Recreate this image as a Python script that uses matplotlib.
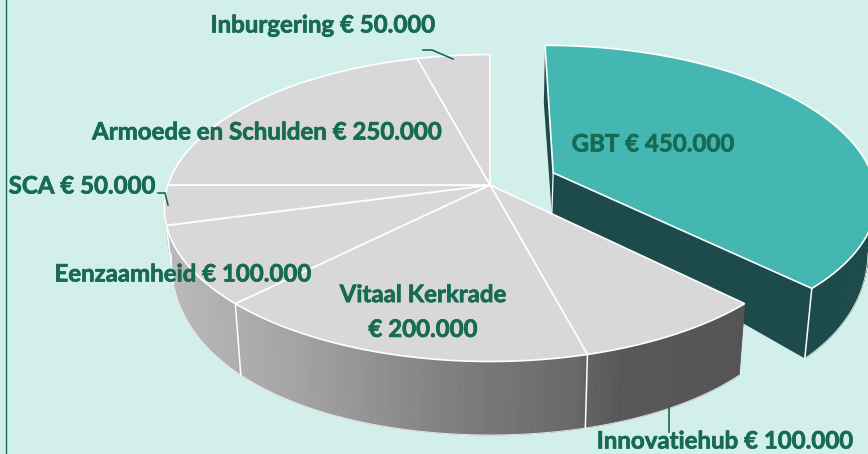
import numpy as np
import matplotlib
matplotlib.use("Agg")
import matplotlib.pyplot as plt
import matplotlib.patheffects as pe
from matplotlib.patches import Polygon
from matplotlib.collections import PolyCollection

categories = ["GBT", "Innovatiehub", "Vitaal Kerkrade", "Eenzaamheid", "SCA",
              "Armoede en Schulden", "Inburgering"]
values = [450000, 100000, 200000, 100000, 50000, 250000, 50000]
label_text = ["GBT € 450.000", "Innovatiehub € 100.000", "Vitaal Kerkrade\n€ 200.000",
              "Eenzaamheid € 100.000", "SCA € 50.000", "Armoede en Schulden € 250.000",
              "Inburgering € 50.000"]
label_pos = [(653, 144), (725, 441), (423, 312), (183, 274), (82, 186), (267, 132), (323, 25)]
explode = [0.215, 0, 0, 0, 0, 0, 0]

BG = "#d3efec"; TEXT = "#176b53"; TEAL = "#45b7b3"; DARK = "#1d4a4a"; GREY = "#d8d8d8"
CX, CY = 490, 185
A, B, K = 322, 150, 0.15
A2, K2 = 315, 0.15

def top(u, v):
    w = 1 + K * v
    return CX + A * u / w, CY - B * v / w

def bottom(u, v):
    w = 1 + K2 * v
    y = np.where(v <= 0.08, 231 - 204 * v, 214.7 - 111.7 * (v - 0.08))
    return CX + A2 * u / w, y

def ring(t, e, bis):
    return np.sin(t) + e * np.sin(bis), np.cos(t) + e * np.cos(bis)

fig = plt.figure(figsize=(8.68, 4.54), dpi=100, facecolor=BG)
ax = fig.add_axes([0, 0, 1, 1])
ax.set_xlim(0, 868); ax.set_ylim(454, 0); ax.axis("off")

ax.plot([5.5, 5.5], [0, 454], color="#1a6b54", lw=1.0, zorder=1)

fracs = np.array(values, dtype=float) / sum(values)
edges = np.concatenate([[0], np.cumsum(fracs)]) * 2 * np.pi

grey_x = [170, 242, 300, 450, 570, 620, 740]
grey_v = [0.73, 0.68, 0.64, 0.50, 0.41, 0.345, 0.33]

def draw_slices(idx, z):
    t0, t1 = edges[idx], edges[idx + 1]
    e, bis = explode[idx], (t0 + t1) / 2
    ts = np.linspace(t0, t1, max(int(np.degrees(t1 - t0)), 4) + 1)
    apex_u, apex_v = e * np.sin(bis), e * np.cos(bis)
    au, av = np.array([apex_u]), np.array([apex_v])
    u, v = ring(ts, e, bis)
    tx, ty = top(u, v)
    bx, by = bottom(u, v)
    atx, aty = top(au, av)
    abx, aby = bottom(au, av)
    exploded = e > 0
    if exploded:
        ax.add_patch(Polygon([(tx[0], ty[0]), (atx[0], aty[0]), (abx[0], float(aby[0])), (bx[0], float(by[0]))],
                             fc=DARK, ec="none", zorder=z))
        ax.add_patch(Polygon([(atx[0], aty[0]), (tx[-1], ty[-1]), (bx[-1], float(by[-1])), (abx[0], float(aby[0]))],
                             fc=DARK, ec="none", zorder=z))
        ax.plot([abx[0], atx[0]], [float(aby[0]), aty[0]], color="white", lw=0.9, zorder=z + 0.1)
    quads, cols = [], []
    for i in range(len(ts) - 1):
        if np.cos(ts[i]) + e * np.cos(bis) > 0.12:
            continue
        quads.append([(tx[i], ty[i]), (tx[i + 1], ty[i + 1]), (bx[i + 1], by[i + 1]), (bx[i], by[i])])
        if exploded:
            cols.append(DARK)
        else:
            g = float(np.interp((bx[i] + bx[i + 1]) / 2, grey_x, grey_v))
            cols.append((g, g, g))
    if quads:
        ax.add_collection(PolyCollection(quads, facecolors=cols, edgecolors=cols, linewidths=0.6, zorder=z))
        vis = [i for i in range(len(ts)) if np.cos(ts[i]) + e * np.cos(bis) <= -0.1]
        if vis:
            ax.plot(bx[vis], by[vis], color="white", lw=0.7, alpha=0.8, zorder=z + 0.1)
        ax.plot([tx[-1], bx[-1]], [ty[-1], by[-1]], color="white", lw=1.1, zorder=z + 0.1)
    return np.column_stack([np.r_[atx, tx], np.r_[aty, ty]])

tops = [draw_slices(i, 3 if explode[i] > 0 else 5) for i in range(len(values))]
for i, poly in enumerate(tops):
    z = 4 if explode[i] > 0 else 6
    ax.add_patch(Polygon(poly, closed=True, fc=TEAL if explode[i] > 0 else GREY,
                         ec="white", lw=1.2, joinstyle="miter", zorder=z))

leaders = [([423, 432, 453], [50, 50, 59]), ([158, 165, 168], [193, 193, 205]), ([669, 669], [407, 432])]
for lx, ly in leaders:
    ax.plot(lx, ly, color=TEXT, lw=1.2, zorder=7)

for s, (x, y) in zip(label_text, label_pos):
    ax.text(x, y, s, ha="center", va="center", color=TEXT, fontsize=17.3, family="Lato",
            fontweight="bold", linespacing=1.62, zorder=8,
            path_effects=[pe.withStroke(linewidth=0.5, foreground=TEXT)])

fig.savefig("out.png", dpi=100, facecolor=BG)
